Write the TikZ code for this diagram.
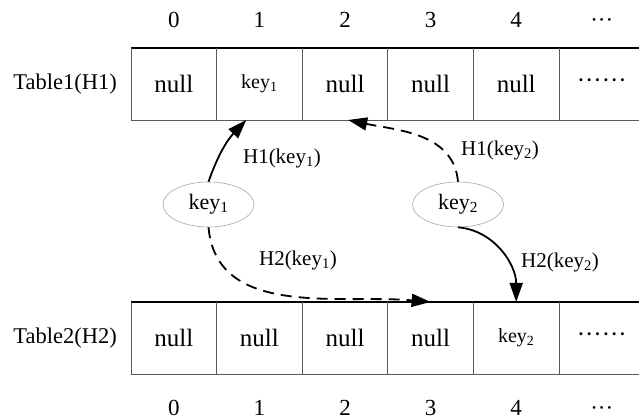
\documentclass[tikz,border=0pt]{standalone}
\usepackage{fontspec}
\setmainfont{Liberation Serif}
\usetikzlibrary{arrows.meta,shapes.geometric,positioning}
\newcommand{\keyA}{{\fontsize{20}{20}\selectfont key\textsubscript{1}}}
\newcommand{\keyB}{{\fontsize{20}{20}\selectfont key\textsubscript{2}}}
\newcommand{\more}{······}

\tikzset{
  cell/.style={minimum width=85.6pt,minimum height=72pt,inner sep=0pt,outer sep=0pt,
    font=\fontsize{25}{25}\selectfont},
  tname/.style={inner sep=0pt,font=\fontsize{22.5}{22.5}\selectfont},
  idx/.style={inner sep=0pt,text height=15pt,text depth=0pt,font=\fontsize{23}{23}\selectfont},
  keynode/.style={ellipse,draw=gray!70,line width=0.6pt,minimum width=91pt,minimum height=45pt,
    inner sep=0pt,font=\fontsize{22}{22}\selectfont},
  edge/.style={inner sep=0pt,font=\fontsize{21}{21}\selectfont},
  hash/.style={line width=1.8pt,-{Triangle[length=19pt,width=13pt]}},
  hashdash/.style={hash,dash pattern=on 11pt off 7pt},
  rowline/.style={line width=1.8pt},
  sep/.style={line width=0.7pt,draw=black!65},
}

\begin{document}
\begin{tikzpicture}[x=1pt,y=1pt]
\useasboundingbox (0,0) rectangle (639,419);
\coordinate (rim) at (639,0);

% table 1
\foreach \i/\txt in {0/null,1/\keyA,2/null,3/null,4/null,5/\more}
  \node[cell] (t1-\i) at (173.8+85.6*\i,335) {\txt};
% table 2
\foreach \i/\txt in {0/null,1/null,2/null,3/null,4/\keyB,5/\more}
  \node[cell] (t2-\i) at (173.8+85.6*\i,81) {\txt};

% borders
\foreach \r in {1,2}{
  \draw[rowline] (t\r-0.north west) -- (t\r-0.north west -| rim);
  \draw[sep] (t\r-0.south west) -- (t\r-0.south west -| rim);
  \foreach \i in {0,...,5}
    \draw[sep] (t\r-\i.north west) -- (t\r-\i.south west);
}

% indices
\foreach \i/\n in {0/0,1/1,2/2,3/3,4/4,5/···}{
  \node[idx,above=20pt of t1-\i] (a-\i) {\n};
  \node[idx,below=26pt of t2-\i] (b-\i) {\n};
}

\node[tname,left=14pt of t1-0] (h1) {Table1(H1)};
\node[tname,left=14pt of t2-0] (h2) {Table2(H2)};

% the two keys
\node[keynode] (k1) at (208.5,214.5) {key\textsubscript{1}};
\node[keynode] (k2) at (458,214.5) {key\textsubscript{2}};

\draw[hash] (k1.north) to[bend left=12] (t1-1.-110);
\draw[hashdash] (k2.north) to[out=95,in=-12] (t1-2.-85);
\draw[hashdash] (k1.south) to[out=-85,in=175] (t2-3.north);
\draw[hash] (k2.south) to[out=-5,in=90] (t2-4.north);

\node[edge] (e1) at (282,261) {H1(key\textsubscript{1})};
\node[edge] (e2) at (500,269) {H1(key\textsubscript{2})};
\node[edge] (e3) at (298,159) {H2(key\textsubscript{1})};
\node[edge] (e4) at (560,157) {H2(key\textsubscript{2})};
\end{tikzpicture}
\end{document}
